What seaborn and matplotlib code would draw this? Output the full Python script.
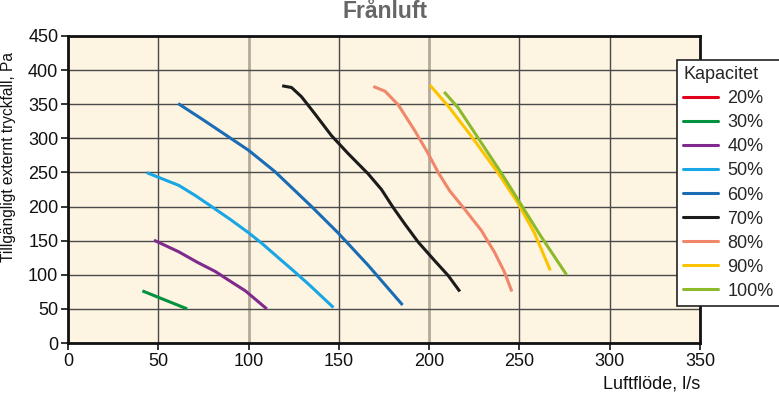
import numpy as np
import pandas as pd
import matplotlib
matplotlib.use("Agg")
import matplotlib.pyplot as plt
from matplotlib import font_manager
import seaborn as sns
from matplotlib.lines import Line2D

labels = ["20%", "30%", "40%", "50%", "60%", "70%", "80%", "90%", "100%"]
colors = ["#e3001b", "#00923f", "#7f2a8c", "#19a6e4", "#1a6cb4", "#1b1b1b",
          "#f0866a", "#fcc400", "#8dba2b"]

x20 = []
y20 = []
x30 = [41.2, 53.1, 66]
y30 = [76.4, 63.7, 50]
x40 = [47.6, 61.4, 71.5, 81.6, 89.9, 98.2, 110.1]
y40 = [150.7, 133.6, 118.5, 104.8, 90.5, 76.5, 50]
x50 = [43.6, 61.4, 70.6, 79.8, 89.9, 100, 107.4, 116.5, 124.8, 133.1, 147]
y50 = [249.7, 231, 216, 199.5, 181.1, 161.6, 146, 125, 106, 86.5, 52]
x60 = [61, 75.2, 89, 100, 114.7, 134.9, 149.6, 166.2, 181.9, 185.3]
y60 = [351, 326.5, 302, 282.5, 251, 200, 161.3, 114, 66, 55.7]
x70 = [118.6, 123.8, 129.3, 136.7, 145.9, 155.2, 166.2, 173.6, 180.1, 186.5,
       193.9, 203.1, 210.5, 217]
y70 = [377, 374.5, 361, 336, 304, 277.5, 248, 225, 198.5, 174.5,
       148, 120.5, 99, 75.5]
x80 = [169.1, 175.6, 182.9, 192.1, 199.4, 205, 211.4, 219.7, 228.9, 236.2, 241.7, 245.8]
y80 = [376, 369, 349, 311, 278, 250, 223, 196, 165, 133, 104, 75.5]
x90 = [200.4, 210.5, 223.3, 238.1, 249.1, 258.3, 267.1]
y90 = [378, 347.5, 303.4, 249.5, 205.4, 161.3, 106.4]
x100 = [208.3, 216, 227, 239.9, 250.9, 261.9, 276.1]
y100 = [368.1, 345, 301, 249.5, 202.9, 156.4, 100]

xs = [x20, x30, x40, x50, x60, x70, x80, x90, x100]
ys = [y20, y30, y40, y50, y60, y70, y80, y90, y100]

xticks = [0, 50, 100, 150, 200, 250, 300, 350]
yticks = [0, 50, 100, 150, 200, 250, 300, 350, 400, 450]

sns.set_theme(style="white")
plt.rcParams['font.family'] = ['Liberation Sans', 'DejaVu Sans']

names = {f.name for f in font_manager.fontManager.ttflist}
narrow = "Liberation Sans Narrow" in names

fig = plt.figure(figsize=(7.79, 3.93), dpi=100)
ax = fig.add_axes([68/779, 1-343/393, (700-68)/779, (343-36)/393])
ax.set_facecolor("#fdf4e1")

rows = []
for lab, xx, yy in zip(labels, xs, ys):
    for a, b in zip(xx, yy):
        rows.append({"Kapacitet": lab, "x": a, "y": b})
df = pd.DataFrame(rows)
present = [l for l in labels if l in set(df["Kapacitet"])]
pal = dict(zip(labels, colors))
sns.lineplot(data=df, x="x", y="y", hue="Kapacitet", hue_order=present,
             palette=pal, sort=False, estimator=None, units="Kapacitet",
             linewidth=2.2, legend=False, ax=ax)
for l in ax.get_lines():
    l.set_solid_joinstyle("round")
    l.set_solid_capstyle("butt")

ax.set_xlim(0, 350)
ax.set_ylim(0, 450)
ax.set_xticks(xticks)
ax.set_yticks(yticks)
ax.grid(True, color="#4a4a4a", linewidth=1.0)
ax.set_axisbelow(True)
for gl, v in zip(ax.get_xgridlines(), xticks):
    if v in (100, 200):
        gl.set_color("#b3aa9c")
        gl.set_linewidth(2.0)
for s in ax.spines.values():
    s.set_color("#111111")
    s.set_linewidth(2.0)
ax.tick_params(axis="both", which="both", direction="out", length=5, width=1.2,
               color="#111111", labelsize=13, labelcolor="#111111",
               bottom=True, left=True, pad=2)

ax.set_xlabel("Luftflöde, l/s", fontsize=13, color="#111111", loc="right", labelpad=4)
ax.set_ylabel("")
if narrow:
    fig.text(9/779, 1-157/393, "Tillgängligt externt tryckfall, Pa", rotation=90,
             ha="center", va="center", fontsize=13, color="#111111",
             family=["Liberation Sans Narrow", "DejaVu Sans"])
else:
    fig.text(9/779, 1-157/393, "Tillgängligt externt tryckfall, Pa", rotation=90,
             ha="center", va="center", fontsize=11.2, color="#111111")

fig.text(385/779, 1-12/393, "Frånluft", ha="center", va="center", fontsize=16.5,
         fontweight="bold", color="#666666")

handles = [Line2D([0], [0], color=c, linewidth=2.2) for c in colors]
leg = fig.legend(handles, labels, title="Kapacitet", loc="upper left",
                 bbox_to_anchor=(677/779, 1-60/393), frameon=True, fancybox=False,
                 fontsize=13, title_fontsize=13, handlelength=1.9, handletextpad=0.55,
                 labelspacing=0.39, borderpad=0.35, borderaxespad=0, alignment="left")
leg.get_frame().set_edgecolor("#222222")
leg.get_frame().set_linewidth(1.2)
leg.get_frame().set_facecolor("white")
leg.get_frame().set_alpha(1)

fig.savefig("out.png", dpi=100)
